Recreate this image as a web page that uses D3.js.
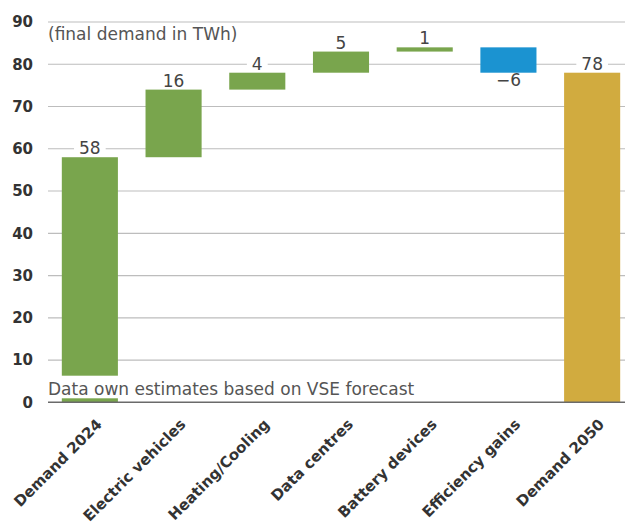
<!DOCTYPE html>
<html>
<head>
<meta charset="utf-8">
<script src="https://cdn.jsdelivr.net/npm/d3@7"></script>
<style>
  html, body { margin: 0; padding: 0; background: #fff; }
  svg { display: block; }
  text { font-family: "DejaVu Sans", sans-serif; }
</style>
</head>
<body>
<svg id="chart" width="625" height="522"></svg>
<script>
// Waterfall: electricity demand 2024 -> 2050 (TWh)
const categories = ["Demand 2024", "Electric vehicles", "Heating/Cooling", "Data centres",
                    "Battery devices", "Efficiency gains", "Demand 2050"];
const changes = [58, 16, 4, 5, 1, -6, 78];
const barTypes = ["total", "step", "step", "step", "step", "step", "total"];
const yTicks = [0, 10, 20, 30, 40, 50, 60, 70, 80, 90];
const unitNote = "(final demand in TWh)";
const sourceNote = "Data own estimates based on VSE forecast";

const colors = { start: "#79a54d", increase: "#79a54d", decrease: "#1b93d1", end: "#d1ab3f" };

const svg = d3.select("#chart");
const W = 625;
const plotLeft = 48, plotRight = 634, plotTop = 22, plotBottom = 402.3;

const x = d3.scaleBand().domain(categories).range([plotLeft, plotRight])
  .paddingInner(0.33).paddingOuter(0.165);
const y = d3.scaleLinear().domain([0, 90]).range([plotBottom, plotTop]);

// running totals -> bar extents
let running = 0;
const bars = categories.map((c, i) => {
  let start, end;
  if (barTypes[i] === "total") { start = 0; end = changes[i]; running = changes[i]; }
  else { start = running; end = running + changes[i]; running = end; }
  let color;
  if (barTypes[i] === "total") color = i === 0 ? colors.start : colors.end;
  else color = changes[i] >= 0 ? colors.increase : colors.decrease;
  return { cat: c, value: changes[i], start, end, color };
});

// gridlines
svg.append("g").selectAll("line").data(yTicks.filter(d => d !== 0)).join("line")
  .attr("x1", plotLeft).attr("x2", W)
  .attr("y1", d => y(d)).attr("y2", d => y(d))
  .attr("stroke", "#bdbdbd").attr("stroke-width", 1.2);

// y axis labels
const gy = svg.append("g").attr("transform", "translate(33,0)")
  .call(d3.axisLeft(y).tickValues(yTicks).tickSize(0).tickPadding(0));
gy.select(".domain").remove();
gy.selectAll("text")
  .attr("font-size", 15).attr("font-weight", 700).attr("fill", "#333")
  .style("font-family", "'DejaVu Sans', sans-serif");

// bars
svg.append("g").selectAll("rect").data(bars).join("rect")
  .attr("x", d => x(d.cat))
  .attr("width", x.bandwidth())
  .attr("y", d => y(Math.max(d.start, d.end)))
  .attr("height", d => Math.abs(y(d.start) - y(d.end)))
  .attr("fill", d => d.color);

// zero line
svg.append("line")
  .attr("x1", plotLeft).attr("x2", W)
  .attr("y1", y(0)).attr("y2", y(0))
  .attr("stroke", "#6a6a6a").attr("stroke-width", 1.6);

// value labels on white backing
bars.forEach(d => {
  const g = svg.append("g");
  const cx = x(d.cat) + x.bandwidth() / 2;
  const ly = d.value >= 0 ? y(Math.max(d.start, d.end)) - 3 : y(Math.min(d.start, d.end)) + 13.5;
  const bg = g.append("rect").attr("fill", "#fff");
  const t = g.append("text")
    .attr("x", cx).attr("y", ly)
    .attr("text-anchor", "middle")
    .attr("font-size", 17).attr("fill", "#444")
    .text(d.value < 0 ? "\u2212" + Math.abs(d.value) : d.value);
  const bb = t.node().getBBox();
  bg.attr("x", bb.x - 5).attr("y", ly - 13).attr("width", bb.width + 10).attr("height", 13);
});

// category labels, rotated
const gx = svg.append("g").attr("transform", `translate(0,${plotBottom})`)
  .call(d3.axisBottom(x).tickSize(0).tickPadding(0));
gx.select(".domain").remove();
gx.selectAll("text")
  .attr("font-size", 15).attr("font-weight", 700).attr("fill", "#333")
  .style("font-family", "'DejaVu Sans', sans-serif")
  .attr("text-anchor", "end")
  .attr("dy", null).attr("y", 0)
  .attr("transform", "translate(13,23) rotate(-45)");

// unit note
svg.append("text").attr("x", plotLeft).attr("y", 40)
  .attr("font-size", 17).attr("fill", "#555").text(unitNote);

// source note on a white strip
const noteG = svg.append("g");
const noteBg = noteG.append("rect").attr("fill", "#fff");
const note = noteG.append("text").attr("x", plotLeft).attr("y", 395)
  .attr("font-size", 17).attr("fill", "#555").text(sourceNote);
const nb = note.node().getBBox();
noteBg.attr("x", nb.x - 2).attr("y", 375.7).attr("width", nb.width + 4).attr("height", 22.6);
</script>
</body>
</html>
